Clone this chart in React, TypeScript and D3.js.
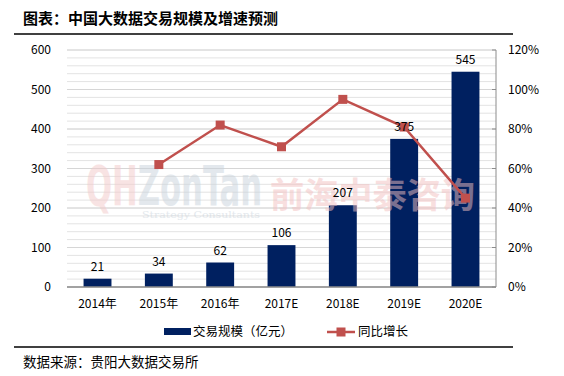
import React from "react";
import * as d3 from "d3";

const categories = ["2014年", "2015年", "2016年", "2017E", "2018E", "2019E", "2020E"];
const scaleValues = [21, 34, 62, 106, 207, 375, 545];
const growthValues: (number | null)[] = [null, 0.62, 0.82, 0.71, 0.95, 0.81, 0.45];
const leftTicks = [0, 100, 200, 300, 400, 500, 600];
const rightTicks = [0, 0.2, 0.4, 0.6, 0.8, 1.0, 1.2];

const W = 564, H = 376;
const M = { left: 67, right: 496, top: 50, bottom: 287 };
const BAR = "#002060";
const LINE = "#C0504D";
const FONT = "'Noto Sans CJK SC', 'Noto Sans', sans-serif";

export default function App() {
  const x = d3.scaleBand<string>().domain(categories).range([M.left, M.right]).paddingInner(0.545).paddingOuter(0.27);
  const y = d3.scaleLinear().domain([0, 600]).range([M.bottom, M.top]);
  const y2 = d3.scaleLinear().domain([0, 1.2]).range([M.bottom, M.top]);
  const minor = d3.range(0, 601, 20);
  const pts = categories
    .map((c, i) => ({ c, v: growthValues[i] }))
    .filter((d) => d.v !== null) as { c: string; v: number }[];
  const line = d3
    .line<{ c: string; v: number }>()
    .x((d) => x(d.c)! + x.bandwidth() / 2)
    .y((d) => y2(d.v));

  return (
    <svg width={W} height={H} style={{ position: "absolute", left: 0, top: 0, background: "#fff" }}>
      <text x={23} y={23.5} fontFamily={FONT} fontWeight="bold" fontSize={15} fill="#000">
        图表：中国大数据交易规模及增速预测
      </text>
      <line x1={14} x2={513} y1={34} y2={34} stroke="#000" strokeWidth={1.5} />

      {minor.map((v) => (
        <line key={v} x1={M.left} x2={M.right} y1={y(v)} y2={y(v)} stroke="#e3e3e3" strokeWidth={1} />
      ))}
      {leftTicks.map((v) => (
        <line key={"g" + v} x1={M.left} x2={M.right} y1={y(v)} y2={y(v)} stroke="#d6d6d6" strokeWidth={1} />
      ))}

      {categories.map((c, i) => (
        <rect key={c} x={x(c)} y={y(scaleValues[i])} width={x.bandwidth()} height={M.bottom - y(scaleValues[i])} fill={BAR} />
      ))}

      <g opacity={0.5}>
        <text x={86} y={205} fontFamily="'DejaVu Sans Condensed', 'DejaVu Sans', sans-serif" fontWeight="bold" fontSize={56} textLength={176} lengthAdjust="spacingAndGlyphs">
          <tspan fill="#f3c9c9">QH</tspan>
          <tspan fill="#c9d3dc">ZonTan</tspan>
        </text>
        <text x={142} y={218} fontFamily="'DejaVu Serif', serif" fontSize={10} fill="#c9d3dc" textLength={118} lengthAdjust="spacingAndGlyphs">
          Strategy Consultants
        </text>
        <text x={270} y={208} fontFamily={FONT} fontWeight="bold" fontSize={35} fill="#f3c0c0" textLength={205} lengthAdjust="spacingAndGlyphs">
          前海中泰咨询
        </text>
      </g>

      <line x1={M.left} x2={M.right} y1={M.bottom} y2={M.bottom} stroke="#8c8c8c" strokeWidth={1.5} />
      <line x1={M.right} x2={M.right} y1={M.top} y2={M.bottom} stroke="#8c8c8c" strokeWidth={1} />
      {rightTicks.map((v) => (
        <line key={"t" + v} x1={M.right - 4} x2={M.right} y1={y2(v)} y2={y2(v)} stroke="#8c8c8c" strokeWidth={1} />
      ))}

      <path d={line(pts)!} fill="none" stroke={LINE} strokeWidth={2.5} />
      {pts.map((d) => (
        <rect key={d.c} x={x(d.c)! + x.bandwidth() / 2 - 4.5} y={y2(d.v) - 4.5} width={9} height={9} fill={LINE} />
      ))}

      {categories.map((c, i) => (
        <text key={"l" + c} x={x(c)! + x.bandwidth() / 2} y={y(scaleValues[i]) - 8} textAnchor="middle" fontFamily={FONT} fontSize={12} fill="#000">
          {scaleValues[i]}
        </text>
      ))}

      {leftTicks.map((v) => (
        <text key={"yl" + v} x={51} y={y(v) + 4} textAnchor="end" fontFamily={FONT} fontSize={12} fill="#000">
          {v}
        </text>
      ))}
      {rightTicks.map((v) => (
        <text key={"yr" + v} x={508} y={y2(v) + 4} textAnchor="start" fontFamily={FONT} fontSize={12} fill="#000">
          {Math.round(v * 100) + "%"}
        </text>
      ))}
      {categories.map((c) => (
        <text key={"xl" + c} x={x(c)! + x.bandwidth() / 2} y={308} textAnchor="middle" fontFamily={FONT} fontSize={12} fill="#000">
          {c}
        </text>
      ))}

      <rect x={164} y={328} width={27} height={7} fill={BAR} />
      <text x={193} y={335.5} fontFamily={FONT} fontSize={12.5} fill="#000">交易规模（亿元）</text>
      <line x1={327} x2={355} y1={332} y2={332} stroke={LINE} strokeWidth={2.5} />
      <rect x={336.5} y={327.5} width={9} height={9} fill={LINE} />
      <text x={358} y={335.5} fontFamily={FONT} fontSize={12.5} fill="#000">同比增长</text>

      <line x1={14} x2={513} y1={347} y2={347} stroke="#000" strokeWidth={1.5} />
      <text x={23} y={367} fontFamily={FONT} fontSize={13.5} fill="#000">数据来源：贵阳大数据交易所</text>
    </svg>
  );
}
